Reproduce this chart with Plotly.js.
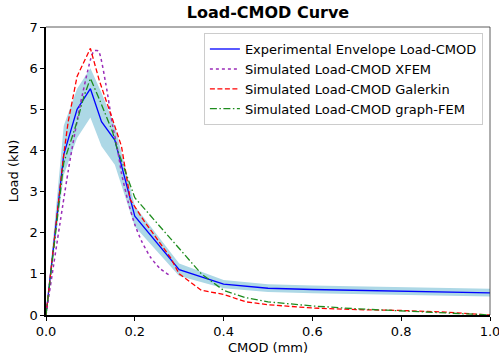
<!DOCTYPE html>
<html>
<head>
<meta charset="utf-8">
<script src="https://cdn.plot.ly/plotly-3.0.1.min.js"></script>
<style>html,body{margin:0;padding:0;background:#fff;}#chart{width:499px;height:358px;}</style>
</head>
<body>
<div id="chart"></div>
<script>
// Experimental envelope
const expX = [0, 0.04, 0.07, 0.1, 0.125, 0.155, 0.2, 0.3, 0.4, 0.5, 0.6, 0.7, 0.8, 0.9, 1.0];
const expY = [0, 3.9, 5.0, 5.5, 4.7, 4.25, 2.4, 1.1, 0.75, 0.65, 0.62, 0.6, 0.58, 0.56, 0.54];
const expUpper = [0, 4.6, 5.5, 6.0, 5.4, 4.6, 2.65, 1.25, 0.85, 0.75, 0.72, 0.7, 0.68, 0.66, 0.64];
const expLower = [0, 3.4, 4.3, 4.8, 4.1, 3.65, 2.15, 0.95, 0.65, 0.56, 0.53, 0.51, 0.49, 0.47, 0.45];

// Simulated XFEM
const xfemX = [0, 0.05, 0.075, 0.1, 0.108, 0.118, 0.135, 0.15, 0.16, 0.17, 0.185, 0.2, 0.215, 0.235, 0.255, 0.28];
const xfemY = [0, 3.5, 5.0, 6.2, 6.42, 6.42, 5.6, 4.6, 4.1, 3.45, 2.75, 2.2, 1.8, 1.41, 1.15, 0.95];

// Simulated Galerkin
const galX = [0, 0.04, 0.05, 0.07, 0.1, 0.12, 0.15, 0.17, 0.19, 0.22, 0.28, 0.3, 0.35, 0.4, 0.45, 0.5, 0.6, 0.7, 0.8, 0.9, 1.0];
const galY = [0, 3.9, 4.7, 5.8, 6.48, 5.7, 4.75, 4.1, 2.8, 2.3, 1.4, 1.0, 0.6, 0.5, 0.32, 0.25, 0.17, 0.13, 0.11, 0.07, 0.0];

// Simulated graph-FEM
const gfX = [0, 0.04, 0.07, 0.085, 0.1, 0.12, 0.15, 0.16, 0.2, 0.3, 0.35, 0.4, 0.45, 0.5, 0.6, 0.7, 0.8, 0.9, 1.0];
const gfY = [0, 3.7, 4.7, 5.3, 5.75, 5.25, 4.45, 4.05, 2.85, 1.6, 1.0, 0.6, 0.42, 0.32, 0.22, 0.15, 0.1, 0.05, 0.0];

const xTicks = [0, 0.2, 0.4, 0.6, 0.8, 1.0];
const xTickText = ["0.0", "0.2", "0.4", "0.6", "0.8", "1.0"];
const yTicks = [0, 1, 2, 3, 4, 5, 6, 7];

const font = "DejaVu Sans, sans-serif";

const traces = [
  {x: expX, y: expLower, mode: 'lines', line: {width: 0, color: 'rgba(0,0,0,0)'}, showlegend: false, hoverinfo: 'skip'},
  {x: expX, y: expUpper, mode: 'lines', fill: 'tonexty', fillcolor: '#add8e6', line: {width: 0, color: 'rgba(0,0,0,0)'}, showlegend: false, hoverinfo: 'skip'},
  {x: expX, y: expY, mode: 'lines', name: 'Experimental Envelope Load-CMOD', line: {color: '#0000ff', width: 1.3}},
  {x: xfemX, y: xfemY, mode: 'lines', name: 'Simulated Load-CMOD XFEM', line: {color: '#9a2cb8', width: 1.5, dash: 'dot', shape: 'spline', smoothing: 0.6}},
  {x: galX, y: galY, mode: 'lines', name: 'Simulated Load-CMOD Galerkin', line: {color: '#ff0000', width: 1.3, dash: '5px,2.5px'}},
  {x: gfX, y: gfY, mode: 'lines', name: 'Simulated Load-CMOD graph-FEM', line: {color: '#1e8c1e', width: 1.3, dash: '7px,2.5px,1.5px,2.5px'}}
];

const layout = {
  width: 499, height: 358,
  margin: {l: 46, r: 9, t: 27, b: 43},
  paper_bgcolor: '#fff', plot_bgcolor: '#fff',
  font: {family: font, size: 13, color: '#000'},
  title: {text: '<b>Load-CMOD Curve</b>', x: 0.537, xanchor: 'center', y: 0.965, yanchor: 'middle', font: {family: font, size: 16, color: '#000'}},
  xaxis: {
    range: [0, 1.0], tickvals: xTicks, ticktext: xTickText,
    showgrid: false, zeroline: false, showline: true, linecolor: '#000', linewidth: 1.6,
    ticks: 'outside', ticklen: 4, tickwidth: 1, tickcolor: '#000',
    title: {text: 'CMOD (mm)', font: {family: font, size: 13}, standoff: 4},
    tickfont: {family: font, size: 13}, automargin: false, ticklabeloverflow: 'allow'
  },
  yaxis: {
    range: [0, 7], tickvals: yTicks,
    showgrid: false, zeroline: false, showline: true, linecolor: '#000', linewidth: 1.6,
    ticks: 'outside', ticklen: 4, tickwidth: 1, tickcolor: '#000',
    title: {text: 'Load (kN)', font: {family: font, size: 13}, standoff: 8},
    tickfont: {family: font, size: 13}, automargin: false, ticklabeloverflow: 'allow'
  },
  shapes: [
    {type: 'line', xref: 'paper', yref: 'paper', x0: 0, x1: 1, y0: 1, y1: 1, line: {color: '#333', width: 0.8}},
    {type: 'line', xref: 'paper', yref: 'paper', x0: 1, x1: 1, y0: 0, y1: 1, line: {color: '#333', width: 0.8}}
  ],
  legend: {
    x: 0.984, xanchor: 'right', y: 0.979, yanchor: 'top',
    bgcolor: 'rgba(255,255,255,0.85)', bordercolor: '#cccccc', borderwidth: 1,
    font: {family: font, size: 13, color: '#000'},
    traceorder: 'normal', tracegroupgap: 0, itemwidth: 30
  },
  showlegend: true
};

Plotly.newPlot('chart', traces, layout, {displayModeBar: false, staticPlot: true});
</script>
</body>
</html>
